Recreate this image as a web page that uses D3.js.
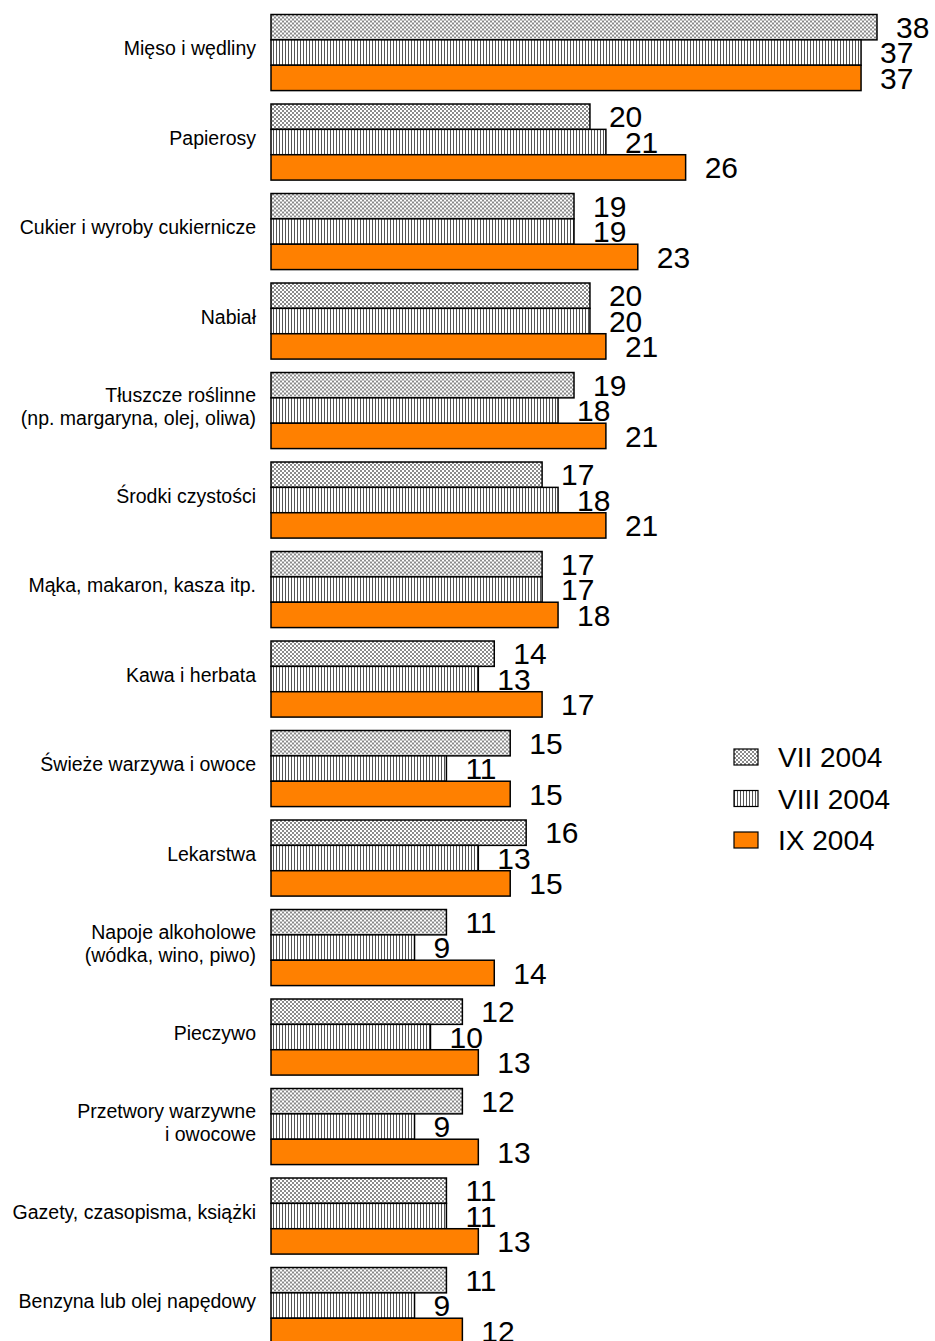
<!DOCTYPE html>
<html>
<head>
<meta charset="utf-8">
<script src="https://cdn.jsdelivr.net/npm/d3@7"></script>
<style>
  body { margin: 0; background: #fff; }
  text { font-family: Arial, "Liberation Sans", sans-serif; }
</style>
</head>
<body>
<div id="chart"></div>
<script>
var categories = [
  ["Mięso i wędliny"],
  ["Papierosy"],
  ["Cukier i wyroby cukiernicze"],
  ["Nabiał"],
  ["Tłuszcze roślinne", "(np. margaryna, olej, oliwa)"],
  ["Środki czystości"],
  ["Mąka, makaron, kasza itp."],
  ["Kawa i herbata"],
  ["Świeże warzywa i owoce"],
  ["Lekarstwa"],
  ["Napoje alkoholowe", "(wódka, wino, piwo)"],
  ["Pieczywo"],
  ["Przetwory warzywne", "i owocowe"],
  ["Gazety, czasopisma, książki"],
  ["Benzyna lub olej napędowy"]
];
var seriesNames = ["VII 2004", "VIII 2004", "IX 2004"];
var jul = [38, 20, 19, 20, 19, 17, 17, 14, 15, 16, 11, 12, 12, 11, 11];
var aug = [37, 21, 19, 20, 18, 18, 17, 13, 11, 13, 9, 10, 9, 11, 9];
var sep = [37, 26, 23, 21, 21, 21, 18, 17, 15, 15, 14, 13, 13, 13, 12];

var width = 935, height = 1341;
var series = [jul, aug, sep];
var fills = ["url(#checker)", "url(#vlines)", "#ff8000"];

var svg = d3.select("#chart").append("svg")
    .attr("width", width)
    .attr("height", height);

var defs = svg.append("defs");
var pc = defs.append("pattern")
    .attr("id", "checker")
    .attr("patternUnits", "userSpaceOnUse")
    .attr("width", 4).attr("height", 4);
pc.append("rect").attr("width", 4).attr("height", 4).attr("fill", "#fff");
pc.append("rect").attr("width", 2).attr("height", 2).attr("fill", "#8a8a8a");
pc.append("rect").attr("x", 2).attr("y", 2).attr("width", 2).attr("height", 2).attr("fill", "#8a8a8a");

var pv = defs.append("pattern")
    .attr("id", "vlines")
    .attr("patternUnits", "userSpaceOnUse")
    .attr("width", 3).attr("height", 3);
pv.append("rect").attr("width", 3).attr("height", 3).attr("fill", "#fff");
pv.append("rect").attr("width", 1).attr("height", 3).attr("fill", "#555");

var idx = d3.range(categories.length);

var x = d3.scaleLinear()
    .domain([0, 38])
    .range([271, 877]);

var y = d3.scaleBand()
    .domain(idx)
    .range([7.8, 7.8 + 15 * 89.5])
    .paddingInner(0.15)
    .paddingOuter(0.075);

var ySub = d3.scaleBand()
    .domain([0, 1, 2])
    .range([0, y.bandwidth()]);

// bars
var groups = svg.selectAll("g.group")
    .data(idx)
    .enter().append("g")
    .attr("class", "group")
    .attr("transform", function(i) { return "translate(0," + y(i) + ")"; });

groups.selectAll("rect")
    .data(function(i) { return series.map(function(s, k) { return {k: k, v: s[i]}; }); })
    .enter().append("rect")
    .attr("x", x(0))
    .attr("y", function(d) { return ySub(d.k); })
    .attr("width", function(d) { return x(d.v) - x(0); })
    .attr("height", ySub.bandwidth())
    .attr("fill", function(d) { return fills[d.k]; })
    .attr("stroke", "#000")
    .attr("stroke-width", 1.5);

// value labels
groups.selectAll("text.val")
    .data(function(i) { return series.map(function(s, k) { return {k: k, v: s[i]}; }); })
    .enter().append("text")
    .attr("class", "val")
    .attr("x", function(d) { return x(d.v) + 19; })
    .attr("y", function(d) { return ySub(d.k) + ySub.bandwidth() / 2; })
    .attr("dy", "0.36em")
    .attr("font-size", "30px")
    .attr("fill", "#000")
    .text(function(d) { return d.v; });

// category labels
var cat = svg.selectAll("text.cat")
    .data(idx)
    .enter().append("text")
    .attr("class", "cat")
    .attr("text-anchor", "end")
    .attr("font-size", "19.5px")
    .attr("fill", "#000")
    .attr("transform", function(i) {
        var n = categories[i].length;
        var cy = y(i) + y.bandwidth() / 2 - 4 - (n - 1) * 11.5;
        return "translate(256," + cy + ")";
    });

cat.selectAll("tspan")
    .data(function(i) { return categories[i]; })
    .enter().append("tspan")
    .attr("x", 0)
    .attr("y", function(d, j) { return j * 23; })
    .attr("dy", "0.35em")
    .text(function(d) { return d; });

// legend
var legend = svg.append("g")
    .attr("transform", "translate(734,757)");

var li = legend.selectAll("g")
    .data(seriesNames)
    .enter().append("g")
    .attr("transform", function(d, k) { return "translate(0," + k * 41.5 + ")"; });

li.append("rect")
    .attr("x", 0)
    .attr("y", -8)
    .attr("width", 24)
    .attr("height", 16)
    .attr("fill", function(d, k) { return fills[k]; })
    .attr("stroke", "#000")
    .attr("stroke-width", 1.2);

li.append("text")
    .attr("x", 44)
    .attr("dy", "0.36em")
    .attr("font-size", "28px")
    .attr("fill", "#000")
    .text(function(d) { return d; });
</script>
</body>
</html>
